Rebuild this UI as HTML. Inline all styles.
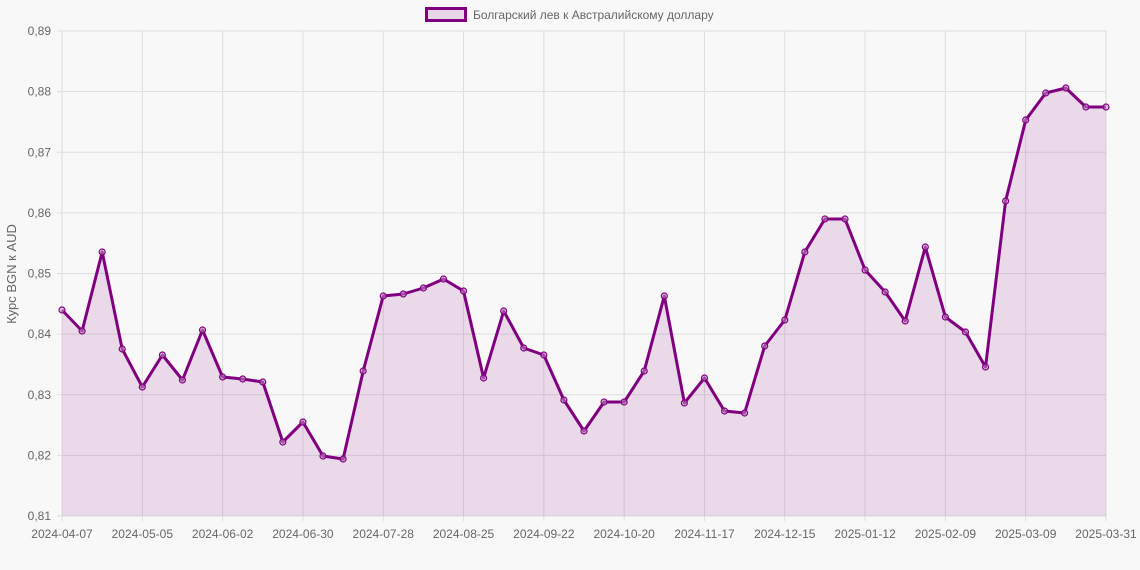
<!DOCTYPE html>
<html><head><meta charset="utf-8"><style>
html,body{margin:0;padding:0;background:#f8f8f8;}
svg{display:block;font-family:"Liberation Sans",sans-serif;}
</style></head><body>
<svg id="s" width="1140" height="570" xmlns="http://www.w3.org/2000/svg">
<rect width="1140" height="570" fill="#f8f8f8"/>
<g id="grid" stroke="#dddddd" stroke-width="1"></g>
<g id="lab" font-size="12" fill="#666"></g>
<text transform="translate(16,274) rotate(-90)" text-anchor="middle" font-size="13" fill="#666">Курс BGN к AUD</text>
<rect x="426.5" y="8.5" width="39" height="12" fill="#e8d5e8" stroke="#800080" stroke-width="3"/>
<text x="473" y="19" font-size="12" fill="#666">Болгарский лев к Австралийскому доллару</text>
<path id="area" fill="rgba(128,0,128,0.12)"/>
<path id="line" fill="none" stroke="#800080" stroke-width="3" stroke-linejoin="round"/>
<g id="pts" fill="rgba(200,150,200,0.5)" stroke="#800080" stroke-width="1.2"></g>
</svg>
<script>
var ys=[310,331,252,349,387,355,380,330,377,379,382,442,422,456,459,371,296,294,288,279,291,378,311,348,355,400,431,402,402,371,296,403,378,411,413,346,320,252,219,219,270,292,321,247,317,332,367,201,120,93,88,107,107];
var x0=62,x1=1106,yt=31,yb=516,ns="http://www.w3.org/2000/svg";
function el(p,t,a,txt){var e=document.createElementNS(ns,t);for(var k in a)e.setAttribute(k,a[k]);if(txt)e.textContent=txt;document.getElementById(p).appendChild(e);}
var dx=(x1-x0)/52;
for(var i=0;i<=8;i++){var y=yt+i*(yb-yt)/8;el('grid','line',{x1:x0-5,x2:x1,y1:y,y2:y});
el('lab','text',{x:51,y:y+4,'text-anchor':'end'},(0.89-i*0.01).toFixed(2).replace('.',','));}
var dl=['2024-04-07','2024-05-05','2024-06-02','2024-06-30','2024-07-28','2024-08-25','2024-09-22','2024-10-20','2024-11-17','2024-12-15','2025-01-12','2025-02-09','2025-03-09'];
for(var i=0;i<13;i++){var x=x0+i*4*dx;el('grid','line',{x1:x,x2:x,y1:yt,y2:yb+5});el('lab','text',{x:x,y:538,'text-anchor':'middle'},dl[i]);}
el('grid','line',{x1:x1,x2:x1,y1:yt,y2:yb+5});el('lab','text',{x:1106,y:538,'text-anchor':'middle'},'2025-03-31');
var d='';ys.forEach(function(y,i){d+=(i?'L':'M')+(x0+i*dx).toFixed(1)+' '+y;});
document.getElementById('line').setAttribute('d',d);
document.getElementById('area').setAttribute('d',d+'L'+x1+' '+yb+'L'+x0+' '+yb+'Z');
ys.forEach(function(y,i){el('pts','circle',{cx:x0+i*dx,cy:y,r:3});});
</script>
</body></html>
